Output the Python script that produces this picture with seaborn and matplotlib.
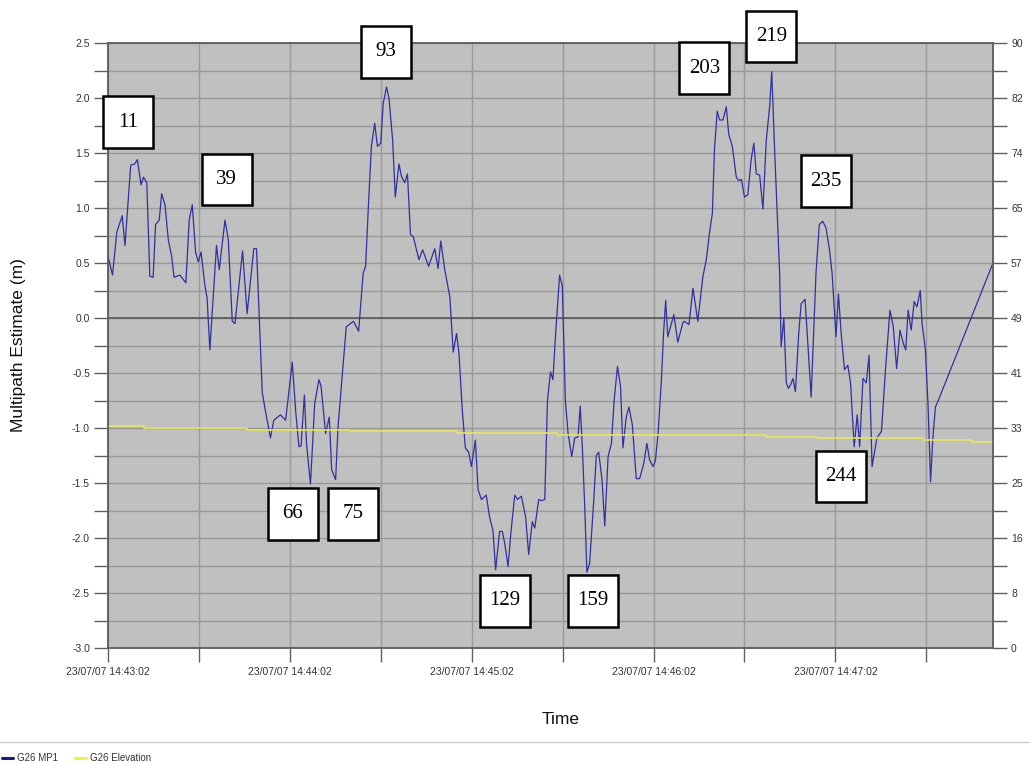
import numpy as np
import pandas as pd
import matplotlib
matplotlib.use("Agg")
import matplotlib.pyplot as plt
from matplotlib.patches import Rectangle
from matplotlib.lines import Line2D
import seaborn as sns

# ---- data -------------------------------------------------------------
# seconds after 23/07/07 14:43:02 and MP1 multipath estimate (m)
mp1_t = [0.0, 1.5, 2.9, 4.7, 5.6, 7.5, 8.8, 9.7, 10.9, 11.7, 12.8, 13.8, 14.9,
         15.7, 16.9, 17.7, 18.8, 19.9, 21.0, 21.8, 23.7, 25.7, 26.8, 27.8, 28.9,
         29.8, 30.7, 32.0, 32.7, 33.6, 35.8, 36.7, 38.6, 39.7, 41.0, 41.9, 44.4,
         45.9, 48.1, 49.0, 50.9, 52.3, 53.6, 54.7, 56.9, 58.6, 60.8, 61.9, 63.0,
         63.7, 64.8, 65.5, 66.8, 68.2, 69.6, 70.3, 71.8, 73.0, 73.8, 75.1, 75.9,
         77.0, 78.6, 81.0, 82.7, 84.2, 85.0, 85.8, 86.9, 88.0, 88.9, 90.0, 90.8,
         91.9, 92.7, 93.9, 94.8, 96.0, 96.8, 97.9, 98.8, 99.8, 100.7, 102.6,
         103.8, 105.8, 107.8, 108.9, 109.8, 111.1, 112.8, 113.9, 115.0, 115.8,
         116.9, 117.9, 119.0, 119.9, 121.2, 122.1, 123.2, 124.8, 125.9, 127.0,
         127.9, 129.2, 130.1, 130.9, 132.0, 132.9, 134.2, 135.1, 136.4, 137.8,
         138.8, 140.0, 140.8, 142.1, 143.0, 144.1, 145.0, 146.0, 146.8, 147.7,
         149.0, 149.9, 150.9, 151.8, 153.0, 154.0, 155.1, 155.8, 156.5, 157.3,
         158.0, 158.9, 160.3, 161.1, 161.9, 163.0, 163.9, 165.0, 166.1, 167.0,
         168.1, 169.1, 169.9, 171.0, 171.9, 173.0, 174.3, 175.4, 176.8, 177.8,
         178.7, 179.8, 180.6, 181.5, 182.6, 183.3, 184.0, 184.7, 186.7, 188.0,
         189.7, 190.2, 191.7, 193.0, 194.6, 196.3, 197.4, 198.5, 199.4, 200.1,
         201.0, 201.8, 202.9, 204.0, 204.8, 206.0, 207.3, 208.1, 209.0, 210.0,
         211.1, 212.2, 213.1, 213.9, 215.0, 216.1, 217.2, 218.3, 219.0, 219.9,
         220.7, 221.6, 222.1, 223.0, 223.8, 224.5, 225.3, 226.0, 226.8, 227.9,
         228.7, 230.0, 232.0, 233.6, 234.7, 235.8, 236.9, 238.0, 238.9, 240.2,
         241.0, 241.9, 243.0, 244.1, 245.0, 246.2, 247.2, 248.0, 249.1, 250.2,
         251.1, 252.1, 253.7, 255.2, 256.6, 258.0, 259.1, 260.2, 261.3, 262.4,
         263.2, 264.0, 265.0, 266.0, 266.9, 268.0, 268.6, 269.7, 270.6, 271.4,
         272.1, 273.0, 273.8, 292.0]
mp1_m = [0.56, 0.39, 0.78, 0.93, 0.66, 1.39, 1.40, 1.44, 1.21, 1.28, 1.23, 0.38, 0.37,
         0.85, 0.89, 1.13, 1.03, 0.71, 0.56, 0.37, 0.39, 0.32, 0.89, 1.03, 0.60,
         0.51, 0.60, 0.29, 0.18, -0.29, 0.66, 0.44, 0.89, 0.71, -0.03, -0.05, 0.61,
         0.04, 0.63, 0.63, -0.68, -0.90, -1.09, -0.93, -0.88, -0.93, -0.40, -0.84, -1.17,
         -1.16, -0.70, -1.14, -1.51, -0.78, -0.56, -0.62, -1.05, -0.90, -1.38, -1.47, -0.99,
         -0.62, -0.08, -0.03, -0.12, 0.41, 0.47, 0.95, 1.56, 1.77, 1.56, 1.59, 1.95,
         2.10, 2.00, 1.62, 1.10, 1.40, 1.29, 1.23, 1.31, 0.76, 0.74, 0.53,
         0.62, 0.47, 0.63, 0.45, 0.70, 0.44, 0.19, -0.31, -0.14, -0.32,
         -0.84, -1.18, -1.22, -1.35, -1.11, -1.56, -1.65, -1.61, -1.81, -1.93,
         -2.29, -1.94, -1.94, -2.05, -2.26, -1.96, -1.61, -1.65, -1.62, -1.81,
         -2.15, -1.85, -1.91, -1.65, -1.66, -1.65, -0.75, -0.49, -0.56, -0.14,
         0.39, 0.29, -0.75, -1.05, -1.26, -1.09, -1.08, -0.80, -1.17, -1.72,
         -2.31, -2.23, -1.65, -1.25, -1.22, -1.47, -1.89, -1.26, -1.14, -0.75,
         -0.44, -0.62, -1.18, -0.90, -0.81, -0.97, -1.46, -1.46, -1.32, -1.14,
         -1.29, -1.35, -1.30, -1.05, -0.56, -0.14, 0.16, -0.17, 0.03, -0.22,
         -0.04, -0.03, -0.06, 0.27, -0.03, 0.38, 0.53, 0.78, 0.95, 1.53,
         1.88, 1.80, 1.80, 1.92, 1.67, 1.56, 1.28, 1.25, 1.26, 1.10,
         1.12, 1.44, 1.59, 1.31, 1.30, 0.99, 1.62, 1.92, 2.24, 1.56,
         1.01, 0.41, -0.26, 0.00, -0.59, -0.64, -0.60, -0.55, -0.67, -0.14,
         0.13, 0.17, -0.72, 0.41, 0.85, 0.88, 0.82, 0.63, 0.41, -0.17,
         0.22, -0.14, -0.47, -0.43, -0.59, -1.17, -0.88, -1.17, -0.55, -0.59,
         -0.34, -1.35, -1.09, -1.03, -0.44, 0.07, -0.08, -0.46, -0.11, -0.23,
         -0.29, 0.07, -0.11, 0.15, 0.10, 0.25, -0.05, -0.29, -0.81, -1.49,
         -1.11, -0.81, -0.76, 0.50]

# satellite elevation (deg), value held from each time onwards
elev_t = [0, 12, 46, 80, 115, 148, 217, 234, 269, 285, 292]
elev_deg = [33.0, 32.8, 32.5, 32.3, 32.0, 31.7, 31.4, 31.2, 30.9, 30.7, 30.7]

# epoch call-outs: epoch number and box centre (s, m)
epoch_ids = [11, 39, 93, 66, 75, 129, 159, 203, 219, 235, 244]
epoch_box_t = [6.6, 39.2, 91.6, 61.0, 80.8, 130.9, 159.9, 196.8, 218.9, 237.0, 241.7]
epoch_box_m = [1.78, 1.26, 2.42, -1.78, -1.78, -2.57, -2.57, 2.27, 2.56, 1.245, -1.44]

time_ticks = [0, 60, 120, 180, 240]
time_labels = ["23/07/07 14:43:02", "23/07/07 14:44:02", "23/07/07 14:45:02",
               "23/07/07 14:46:02", "23/07/07 14:47:02"]
left_ticks = [-3.0, -2.5, -2.0, -1.5, -1.0, -0.5, 0.0, 0.5, 1.0, 1.5, 2.0, 2.5]
right_labels = ["0", "8", "16", "25", "33", "41", "49", "57", "65", "74", "82", "90"]

# ---- figure -----------------------------------------------------------
sns.set_style("ticks")
plt.rcParams["font.family"] = ["Liberation Sans", "DejaVu Sans"]

fig = plt.figure(figsize=(10.3, 7.65), dpi=100)
ax = fig.add_axes([108 / 1030, 117 / 765, 885 / 1030, 605 / 765])
ax.set_facecolor("#c0c0c0")

mp1 = pd.DataFrame({"t": mp1_t, "mp1": mp1_m})
elev = pd.DataFrame({"t": elev_t, "elev": elev_deg})

line_blue = "#30309f"
line_yellow = "#e8e85a"

# grid every 30 s / 0.25 m
ax.set_xlim(0, 292)
ax.set_ylim(-3.0, 2.5)
ax.set_xticks(time_ticks)
ax.set_xticklabels(time_labels)
ax.set_xticks(np.arange(30, 292, 60), minor=True)
ax.set_yticks(left_ticks)
ax.set_yticklabels([f"{v:.1f}" for v in left_ticks])
ax.set_yticks(np.arange(-2.75, 2.5, 0.5), minor=True)
ax.grid(True, which="both", color="#999999", lw=1.0, zorder=0)
ax.set_axisbelow(True)
ax.axhline(0, color="#505050", lw=1.1, zorder=1)

sns.lineplot(data=mp1, x="t", y="mp1", ax=ax, color=line_blue, lw=0.9,
             estimator=None, sort=False, zorder=3)

ax2 = ax.twinx()
sns.lineplot(data=elev, x="t", y="elev", ax=ax2, color=line_yellow, lw=1.1,
             estimator=None, drawstyle="steps-post", zorder=2)
ax2.set_ylim(0, 90)
ax2.set_yticks(np.linspace(0, 90, 12))
ax2.set_yticklabels(right_labels)
ax2.set_yticks(np.linspace(0, 90, 23)[1::2], minor=True)
ax2.set_xlim(0, 292)
ax2.set_ylabel("")

# axis styling
for a in (ax, ax2):
    for s in a.spines.values():
        s.set_color("#606060")
        s.set_linewidth(1.1)
    a.tick_params(which="both", length=10, width=1, color="#606060",
                  labelcolor="#333333", labelsize=7.5)
ax.tick_params(axis="y", which="both", pad=3)
ax.tick_params(axis="x", which="both", pad=4)
ax2.tick_params(axis="y", which="both", pad=3)

ax.set_xlabel("Time", fontsize=12.5, color="#111111")
ax.xaxis.set_label_coords(0.511, -0.106)
ax.set_ylabel("Multipath Estimate (m)", fontsize=12.5, color="#111111")
ax.yaxis.set_label_coords(-0.0925, 0.5)

# epoch call-out boxes
box_w, box_h = 16.5, 0.47
for n, bt, bm in zip(epoch_ids, epoch_box_t, epoch_box_m):
    ax2.add_patch(Rectangle((bt - box_w / 2, bm - box_h / 2), box_w, box_h,
                            transform=ax.transData, facecolor="white",
                            edgecolor="black", lw=1.8, clip_on=False, zorder=10))
    ax2.text(bt, bm, str(n), transform=ax.transData, ha="center", va="center",
             fontsize=15, family=["Liberation Serif", "DejaVu Serif"],
             color="black", zorder=11, clip_on=False)

# legend strip along the bottom
fig.add_artist(Line2D([0, 1], [23 / 765, 23 / 765], color="#cccccc", lw=1.0))
handles = [Line2D([], [], color="#1a1a80", lw=2.2),
           Line2D([], [], color="#f0f050", lw=2.2)]
leg = fig.legend(handles, ["G26 MP1", "G26 Elevation"], loc="lower left",
                 bbox_to_anchor=(0.0, 0.0), ncol=2, frameon=False,
                 fontsize=7, handlelength=1.1, handletextpad=0.4,
                 columnspacing=1.8, borderaxespad=0.0, borderpad=0.2)
for txt in leg.get_texts():
    txt.set_color("#333333")

fig.savefig("out.png", dpi=100, facecolor="white")
